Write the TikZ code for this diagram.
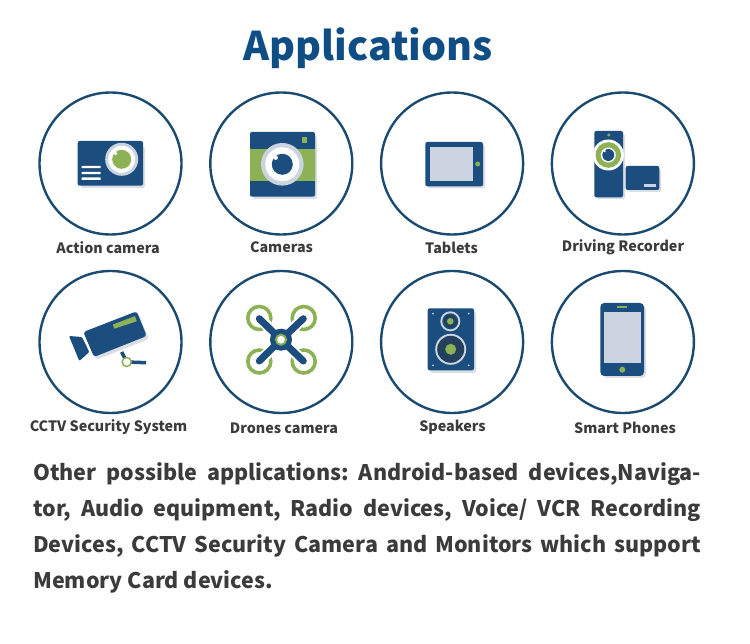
\documentclass[tikz,border=0pt]{standalone}
\usepackage{fontspec}
\setmainfont{Noto Sans CJK SC}
\definecolor{navy}{HTML}{1B4D7E}
\definecolor{titleblue}{HTML}{0F4E85}
\definecolor{ringblue}{HTML}{1A4A70}
\definecolor{leaf}{HTML}{8DB255}
\definecolor{mist}{HTML}{CAD3DF}
\definecolor{shade}{HTML}{DADFE6}
\definecolor{darkcone}{HTML}{23405C}
\definecolor{ink}{HTML}{3B3B3B}
\tikzset{
  ring/.style={circle,draw=ringblue,line width=2.4pt,minimum size=142pt,inner sep=0pt},
  lbl/.style={font=\fontsize{14.3}{16}\selectfont\bfseries,text=ink,inner sep=0pt},
  body/.style={fill=navy,rounded corners=2pt},
  shadow/.style={fill=shade,rounded corners=2pt},
}
\begin{document}
\begin{tikzpicture}[x=1pt,y=-1pt,node distance=170.8pt]
\useasboundingbox (0,0) rectangle (750,644);
\node[font=\fontsize{39.5}{45}\selectfont\bfseries,text=titleblue,inner sep=0pt] (title) at (368,48.5) {Applications};
% circles
\node[ring] (c1) at (110.5,163.5) {};
\node[ring] (c2) [right of=c1] {};
\node[ring] (c3) [right of=c2] {};
\node[ring] (c4) [right of=c3] {};
\node[ring] (c5) [below of=c1,node distance=178.5pt] {};
\node[ring] (c6) [right of=c5] {};
\node[ring] (c7) [right of=c6] {};
\node[ring] (c8) [right of=c7] {};
% labels
\node[lbl] (l1) at (108,247.5) {Action camera};
\node[lbl] (l2) at (281.5,247.5) {Cameras};
\node[lbl] (l3) at (451.5,248) {Tablets};
\node[lbl] (l4) at (623,247) {Driving Recorder};
\node[lbl] (l5) at (108.5,427) {CCTV Security System};
\node[lbl] (l6) at (284,428) {Drones camera};
\node[lbl] (l7) at (452.5,427) {Speakers};
\node[lbl] (l8) at (625,428) {Smart Phones};
% action camera
\fill[shadow] (81,147) rectangle (145,188);
\fill[body] (77.7,141) rectangle (143,185.7);
\fill[mist] (121.7,159.3) circle (16.5);
\fill[white] (121.7,159.3) circle (13.5);
\fill[leaf] (121.7,159.3) circle (9.5);
\fill[white] (115.5,153.5) circle (1.8);
\fill[white] (81.7,165.8) rectangle (100.7,168.2) (81.7,171.8) rectangle (100.7,174.2) (81.7,177.5) rectangle (100.7,180);
% cameras
\fill[shadow] (253,136) rectangle (317,199);
\fill[body] (250,132) rectangle (315,196.7);
\fill[leaf] (250,149) rectangle (315,181);
\fill[leaf] (301.7,137.3) rectangle (306.7,142.7);
\fill[mist] (282.3,164.3) circle (21.3);
\fill[white] (282.3,164.3) circle (17);
\fill[navy] (282.3,164.3) circle (10.5);
\fill[white] (275.7,157.7) circle (2.2);
% tablets
\fill[shadow] (428,145) rectangle (485,188.5);
\fill[body] (425.3,142) rectangle (483,186.3);
\fill[mist] (430,147) rectangle (473.3,181.3);
\fill[leaf] (477.7,164) circle (2.5);
% driving recorder
\fill[shadow] (597,134) rectangle (625,199);
\fill[body] (594.3,131) rectangle (623,197.3);
\fill[leaf] (608.7,135) circle (1.6);
\fill[white] (608.3,155) circle (15.5);
\fill[leaf] (608.3,155) circle (12.8);
\fill[white] (608.3,155) circle (7.5);
\fill[navy] (608.3,155) circle (6);
\fill[white] (604.5,151) circle (1.3);
\fill[shadow] (628,169) rectangle (661,192);
\fill[body] (625.7,166) rectangle (659.3,190);
\fill[mist] (644,184) rectangle (656,187);
% cctv
\fill[shadow,rounded corners=3pt] (85,335) -- (138.5,314) -- (149,339) -- (96,360) -- cycle;
\fill[body,rounded corners=3pt] (83.3,332) -- (136.7,311.3) -- (146.7,336) -- (94,357) -- cycle;
\fill[leaf] (112.7,324.7) -- (135,316) -- (136.7,321.3) -- (114.3,328.7) -- cycle;
\fill[navy,rounded corners=1pt] (69,336) -- (82,337) -- (89.3,352) -- (79.3,361) -- cycle;
\draw[navy,line width=3.5pt] (121.7,352) -- (126.7,362) -- (146,362.7);
\draw[leaf,fill=white,line width=1.5pt] (126.7,362) circle (4.5);
% drones
\foreach \px/\py in {259.3/318,303.7/318,259.3/361.5,303.7/361.5}{
  \draw[leaf,line width=3.6pt] (\px,\py) circle (11.5);
  \draw[white,line width=11pt] (281,339.7) -- (\px,\py);
}
\foreach \px/\py in {259.3/318.7,303.3/318.7,259.3/361,303.3/361}
  \draw[navy,line width=7pt,line cap=round] (281,339.7) -- (\px,\py);
\fill[navy] (281,339.7) circle (11);
\draw[leaf,fill=white,line width=2pt] (281,339.7) circle (5);
% speakers
\fill[shadow] (430.5,312) rectangle (476,373);
\fill[body] (427.7,308.3) rectangle (474,370.3);
\foreach \px/\py in {433/313.7,468.7/313.7,433/365.3,468.7/365.3}
  \fill[mist] (\px,\py) circle (1);
\fill[mist] (450.3,321.3) circle (10);
\fill[navy] (450.3,321.3) circle (8);
\fill[darkcone] (450.3,321.3) circle (6.5);
\fill[leaf] (450.3,321.3) circle (3.3);
\fill[mist] (450.7,349.3) circle (15.5);
\fill[darkcone] (450.7,349.3) circle (13.5);
\fill[leaf] (450.7,349.3) circle (5.5);
% smart phones
\fill[shadow,rounded corners=4pt] (603,306) rectangle (646,378);
\fill[body,rounded corners=4pt] (600.3,303) rectangle (644,376);
\fill[mist] (603.7,312) rectangle (640.7,363.3);
\fill[leaf] (617,306) rectangle (627.3,308);
\fill[leaf] (622.3,369.7) circle (3);
% text
\node[anchor=north west,text width=668pt,align=justify,inner sep=0pt,text=ink,
  font=\fontsize{21.5}{36}\selectfont\bfseries\frenchspacing] (para) at (33,462)
  {Other possible applications: Android-based devices,Naviga-\linebreak
   tor, Audio equipment, Radio devices, Voice/ VCR Recording\linebreak
   Devices, CCTV Security Camera and Monitors which support\linebreak
   Memory Card devices.};
\end{tikzpicture}
\end{document}
